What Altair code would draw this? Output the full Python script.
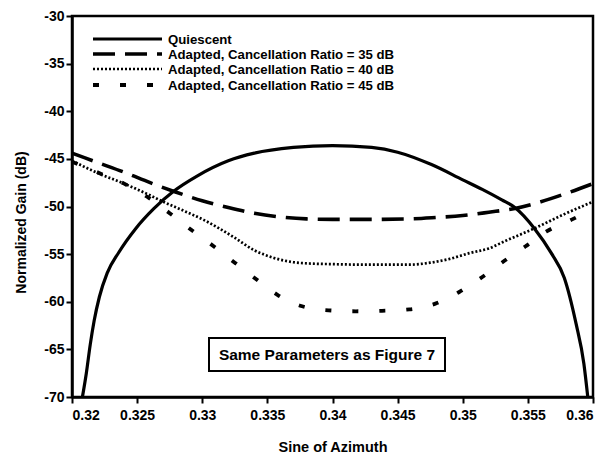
import altair as alt
import pandas as pd

# ---- data ----
q_x = [0.3208, 0.3211, 0.3214, 0.3217, 0.3221, 0.3227, 0.3236, 0.3249, 0.3263, 0.3278,
       0.3296, 0.3320, 0.3340, 0.3370, 0.3400, 0.3430, 0.3450, 0.3476, 0.3500, 0.3515,
       0.3530, 0.3540, 0.3555, 0.3568, 0.3578, 0.3587, 0.3593, 0.3596]
q_y = [-70.0, -67.5, -64.5, -62.0, -59.5, -57.0, -54.8, -52.3, -50.2, -48.4,
       -46.8, -45.2, -44.4, -43.8, -43.6, -43.8, -44.3, -45.6, -47.2, -48.2,
       -49.3, -50.1, -52.3, -54.9, -57.5, -62.3, -66.5, -70.0]

a35_x = [0.3200, 0.3220, 0.3240, 0.3260, 0.3280, 0.3300, 0.3320, 0.3340, 0.3360, 0.3380,
         0.3400, 0.3430, 0.3460, 0.3480, 0.3500, 0.3520, 0.3540, 0.3560, 0.3580, 0.3600]
a35_y = [-44.4, -45.4, -46.4, -47.5, -48.5, -49.4, -50.1, -50.7, -51.1, -51.3,
         -51.35, -51.35, -51.3, -51.15, -50.95, -50.6, -50.2, -49.5, -48.6, -47.6]

a40_x = [0.3200, 0.3220, 0.3240, 0.3258, 0.3270, 0.3285, 0.3301, 0.3324, 0.3340, 0.3355,
         0.3370, 0.3385, 0.3400, 0.3420, 0.3440, 0.3460, 0.3475, 0.3490, 0.3505, 0.3520,
         0.3533, 0.3555, 0.3578, 0.3600]
a40_y = [-45.2, -46.5, -47.6, -48.7, -49.5, -50.4, -51.4, -53.2, -54.6, -55.4,
         -55.85, -56.0, -56.05, -56.1, -56.1, -56.1, -55.9, -55.5, -54.9, -54.4,
         -53.6, -52.3, -50.8, -49.5]

a45_x = [0.3200, 0.3222, 0.3240, 0.3259, 0.3275, 0.3292, 0.3309, 0.3325, 0.3342, 0.3358,
         0.3376, 0.3397, 0.3418, 0.3438, 0.3459, 0.3479, 0.3497, 0.3515, 0.3532, 0.3548,
         0.3564, 0.3584, 0.3600]
a45_y = [-45.3, -46.55, -47.6, -49.1, -50.7, -52.5, -54.2, -55.9, -57.7, -59.3,
         -60.45, -60.9, -61.0, -60.95, -60.8, -60.2, -59.0, -57.4, -55.7, -54.2,
         -52.65, -51.35, -50.3]

legend_labels = ["Quiescent",
                 "Adapted, Cancellation Ratio = 35 dB",
                 "Adapted, Cancellation Ratio = 40 dB",
                 "Adapted, Cancellation Ratio = 45 dB"]

x_ticks = [0.32, 0.325, 0.33, 0.335, 0.34, 0.345, 0.35, 0.355, 0.36]
y_ticks = [-30, -35, -40, -45, -50, -55, -60, -65, -70]

note_text = "Same Parameters as Figure 7"

# ---- styles ----
series = [
    (q_x, q_y, None, 3.2),
    (a35_x, a35_y, [22, 10], 3.6),
    (a40_x, a40_y, [2, 2], 2.7),
    (a45_x, a45_y, [6, 21], 3.8),
]

FONT = "Liberation Sans"
W, H = 521, 381

xscale = alt.Scale(domain=[0.32, 0.36], nice=False, zero=False)
yscale = alt.Scale(domain=[-70, -30], nice=False, zero=False)

x_axis = alt.Axis(values=x_ticks, labelExpr="'' + datum.value", title="Sine of Azimuth",
                  grid=False, tickSize=6, labelPadding=5, labelFontSize=14,
                  labelFontWeight="bold", labelFont=FONT, titleFont=FONT,
                  titleFontSize=14.5, titleFontWeight="bold", titleY=50,
                  titleBaseline="middle", domainColor="black", domainWidth=2.5,
                  tickColor="black", tickWidth=2, labelColor="black", titleColor="black")
y_axis = alt.Axis(values=y_ticks, labelExpr="'' + datum.value", title="Normalized Gain (dB)",
                  grid=False, tickSize=6, labelPadding=2, labelFontSize=14,
                  labelFontWeight="bold", labelFont=FONT, titleFont=FONT,
                  titleFontSize=14, titleFontWeight="bold", titleAngle=270,
                  titleX=-51, titleY=206, titleAlign="center", titleBaseline="middle",
                  domainColor="black", domainWidth=2.5, tickColor="black", tickWidth=2,
                  labelColor="black", titleColor="black")

layers = []
for xs, ys, dash, sw in series:
    df = pd.DataFrame({"x": xs, "y": ys})
    kw = dict(color="black", strokeWidth=sw, interpolate="monotone", clip=True, strokeCap="butt")
    if dash is not None:
        kw["strokeDash"] = dash
    layers.append(alt.Chart(df).mark_line(**kw).encode(
        x=alt.X("x:Q", scale=xscale, axis=x_axis),
        y=alt.Y("y:Q", scale=yscale, axis=y_axis)))

# ---- legend (drawn in the plot corner) ----
leg_rows_y = [23, 38, 53, 69]
for (xs, ys, dash, sw), label, ly in zip(series, legend_labels, leg_rows_y):
    kw = dict(color="black", strokeWidth=sw, strokeCap="butt")
    if dash is not None:
        kw["strokeDash"] = dash
    layers.append(alt.Chart(pd.DataFrame({"t": [label]})).mark_rule(**kw).encode(
        x=alt.value(21), x2=alt.value(90), y=alt.value(ly)))
    layers.append(alt.Chart(pd.DataFrame({"t": [label]})).mark_text(
        align="left", baseline="middle", font=FONT, fontSize=13.2, fontWeight="bold",
        color="black").encode(x=alt.value(96), y=alt.value(ly + 1), text="t:N"))

# ---- annotation box ----
note_df = pd.DataFrame({"t": [note_text]})
layers.append(alt.Chart(note_df).mark_rect(fill="white", stroke="black", strokeWidth=2).encode(
    x=alt.value(137), x2=alt.value(373), y=alt.value(322), y2=alt.value(355)))
layers.append(alt.Chart(note_df).mark_text(
    align="center", baseline="middle", font=FONT, fontSize=15.5, fontWeight="bold",
    color="black").encode(x=alt.value(255), y=alt.value(339), text="t:N"))

chart = alt.layer(*layers).properties(
    width=W, height=H,
    autosize=alt.AutoSizeParams(type="none"),
    padding={"left": 72, "top": 16, "right": 20, "bottom": 63},
    background="white",
).configure_view(stroke="black", strokeWidth=2.5)

chart.save("out.html", embed_options={"renderer": "svg", "actions": False})
